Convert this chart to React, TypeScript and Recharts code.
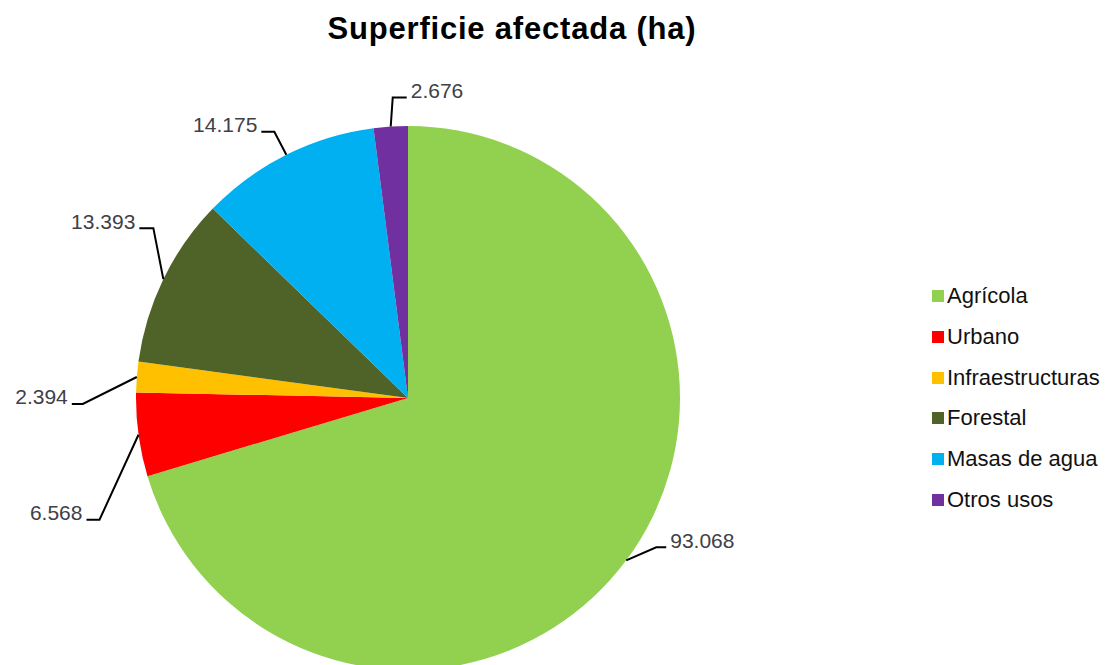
import { Cell, Legend, Pie, PieChart } from "recharts";

document.body.style.margin = "0";

const categories = ["Agrícola", "Urbano", "Infraestructuras", "Forestal", "Masas de agua", "Otros usos"];
const superficie = [93.068, 6.568, 2.394, 13.393, 14.175, 2.676];
const valueLabels = ["93.068", "6.568", "2.394", "13.393", "14.175", "2.676"];
const colors = ["#92D050", "#FF0000", "#FFC000", "#4F6228", "#00B0F0", "#7030A0"];

// leader line elbow offset from the slice edge, then the short horizontal run
const leaders = [
  { dx: 30, dy: -13, run: 10 },
  { dx: -39, dy: 85, run: -13 },
  { dx: -54, dy: 27, run: -11 },
  { dx: -10, dy: -51, run: -14 },
  { dx: -12, dy: -23, run: -13 },
  { dx: 2, dy: -29, run: 14 },
];

const data = categories.map((name, i) => ({ name, value: superficie[i] }));

const RAD = Math.PI / 180;

function LeaderLabel(props: any) {
  const { cx, cy, midAngle, outerRadius, index } = props;
  const ex = cx + outerRadius * Math.cos(-midAngle * RAD);
  const ey = cy + outerRadius * Math.sin(-midAngle * RAD);
  const l = leaders[index];
  const bx = ex + l.dx;
  const by = ey + l.dy;
  const hx = bx + l.run;
  const right = l.run > 0;
  return (
    <g>
      <polyline points={`${ex},${ey} ${bx},${by} ${hx},${by}`} fill="none" stroke="#000" strokeWidth={2} />
      <text
        x={right ? hx + 4 : hx - 4}
        y={by - 7}
        textAnchor={right ? "start" : "end"}
        dominantBaseline="central"
        fontSize={21}
        fill="#404048"
      >
        {valueLabels[index]}
      </text>
    </g>
  );
}

function LegendList() {
  return (
    <div style={{ fontFamily: "'Liberation Sans', Arial, sans-serif", fontSize: 22, color: "#111" }}>
      {categories.map((c, i) => (
        <div key={c} style={{ display: "flex", alignItems: "center", height: 40.7 }}>
          <span style={{ width: 12, height: 12, background: colors[i], marginRight: 3 }} />
          <span>{c}</span>
        </div>
      ))}
    </div>
  );
}

export default function App() {
  return (
    <div style={{ position: "relative", width: 1109, height: 665, background: "#fff", overflow: "hidden" }}>
      <div
        style={{
          position: "absolute",
          left: 0,
          width: 1024,
          top: 11,
          textAlign: "center",
          fontFamily: "'Liberation Sans', Arial, sans-serif",
          fontWeight: "bold",
          fontSize: 31,
          letterSpacing: 0.8,
          color: "#000",
        }}
      >
        Superficie afectada (ha)
      </div>
      <PieChart
        width={1109}
        height={665}
        margin={{ top: 0, right: 0, bottom: 0, left: 0 }}
        style={{ fontFamily: "'Liberation Sans', Arial, sans-serif" }}
      >
        <Pie
          data={data}
          dataKey="value"
          nameKey="name"
          cx={408}
          cy={398}
          outerRadius={272}
          startAngle={90}
          endAngle={-270}
          stroke="none"
          label={LeaderLabel}
          labelLine={false}
          isAnimationActive={false}
        >
          {data.map((d, i) => (
            <Cell key={d.name} fill={colors[i]} />
          ))}
        </Pie>
        <Legend content={<LegendList />} wrapperStyle={{ position: "absolute", left: 932, top: 276, width: 177 }} />
      </PieChart>
    </div>
  );
}
